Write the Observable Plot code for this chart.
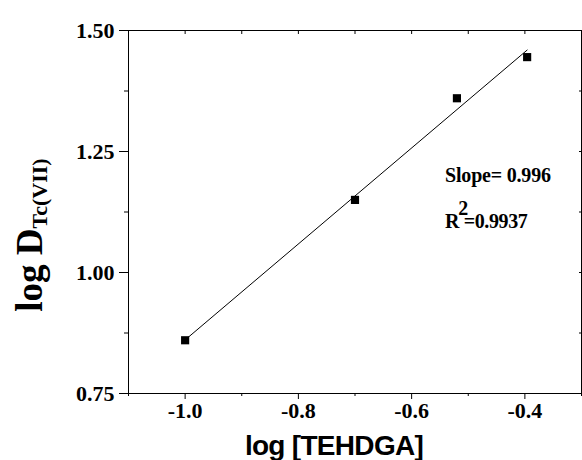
<!DOCTYPE html>
<html>
<head>
<meta charset="utf-8">
<script src="https://cdn.jsdelivr.net/npm/d3@7"></script>
<script src="https://cdn.jsdelivr.net/npm/@observablehq/plot@0.6"></script>
<style>
  body { margin: 0; background: #fff; }
  svg { display: block; }
</style>
</head>
<body>
<div id="chart"></div>
<script>
// Data
const logTEHDGA = [-1.0, -0.7, -0.52, -0.396];
const logD = [0.86, 1.15, 1.36, 1.445];
const xMajorTicks = [-1.0, -0.8, -0.6, -0.4];
const xMinorTicks = [-1.1, -0.9, -0.7, -0.5, -0.3];
const yMajorTicks = [0.75, 1.0, 1.25, 1.5];
const yMinorTicks = [0.875, 1.125, 1.375];
const slopeText = "Slope= 0.996";
const r2Value = "=0.9937";
const xLabel = "log [TEHDGA]";

const data = logTEHDGA.map((x, i) => ({x, y: logD[i]}));
const serif = "'Liberation Serif', 'Times New Roman', serif";
const sans = "'Liberation Sans', Arial, sans-serif";

const plot = Plot.plot({
  width: 582,
  height: 460,
  marginLeft: 128,
  marginRight: 1,
  marginTop: 30,
  marginBottom: 67,
  x: {domain: [-1.1, -0.3]},
  y: {domain: [0.75, 1.5]},
  style: {fontFamily: serif, fontWeight: "bold", fontSize: "22px", color: "#000", background: "#fff"},
  marks: [
    Plot.frame({stroke: "#000", strokeWidth: 1}),
    Plot.axisX(xMajorTicks, {anchor: "bottom", tickSize: 6, tickPadding: 3, tickFormat: d => d.toFixed(1), label: null, fontSize: 22, fontWeight: "bold", letterSpacing: -1}),
    Plot.axisX(xMinorTicks, {anchor: "bottom", tickSize: 3, tickFormat: () => "", label: null}),
    Plot.axisX(xMajorTicks.concat(xMinorTicks), {anchor: "top", tickSize: -3, tickFormat: () => "", label: null}),
    Plot.axisY(yMajorTicks, {anchor: "left", tickSize: 9, tickPadding: 5, tickFormat: d => d.toFixed(2), label: null, fontSize: 22, fontWeight: "bold", letterSpacing: -1}),
    Plot.axisY(yMinorTicks, {anchor: "left", tickSize: 4, tickFormat: () => "", label: null}),
    Plot.axisY(yMajorTicks.concat(yMinorTicks), {anchor: "right", tickSize: -3, tickFormat: () => "", label: null}),
    Plot.linearRegressionY(data, {x: "x", y: "y", ci: 0, stroke: "#000", strokeWidth: 1}),
    Plot.dot(data, {x: "x", y: "y", symbol: "square", r: 4.6, fill: "#000", stroke: "none"})
  ]
});

document.getElementById("chart").append(plot);

const svg = d3.select(plot);
const xs = plot.scale("x"), ys = plot.scale("y");

// Y label with subscript
const yl = svg.append("text")
  .attr("transform", "translate(42,235) rotate(-90)")
  .attr("text-anchor", "middle")
  .attr("font-family", serif)
  .attr("font-weight", "bold")
  .attr("fill", "#000");
yl.append("tspan").attr("font-size", 37).text("log D");
yl.append("tspan").attr("font-size", 22).attr("dy", 5).text("Tc(VII)");

// X label
svg.append("text")
  .attr("x", 334).attr("y", 455)
  .attr("text-anchor", "middle")
  .attr("font-family", sans)
  .attr("font-weight", "bold")
  .attr("font-size", 28)
  .attr("letter-spacing", -0.7)
  .attr("fill", "#000")
  .text(xLabel);

// Annotations positioned via the plot scales
const ax = xs.apply(-0.54);
svg.append("text")
  .attr("x", ax).attr("y", ys.apply(1.186))
  .attr("text-anchor", "start")
  .attr("font-family", serif).attr("font-weight", "bold").attr("font-size", 20)
  .attr("letter-spacing", -0.2).attr("fill", "#000")
  .text(slopeText);
const r2 = svg.append("text")
  .attr("x", ax).attr("y", ys.apply(1.09))
  .attr("text-anchor", "start")
  .attr("font-family", serif).attr("font-weight", "bold").attr("font-size", 20)
  .attr("letter-spacing", -0.4).attr("fill", "#000");
r2.append("tspan").text("R");
r2.append("tspan").attr("dy", -13).attr("dx", -1).text("2");
r2.append("tspan").attr("dy", 13).attr("dx", -4).text(r2Value);
</script>
</body>
</html>
